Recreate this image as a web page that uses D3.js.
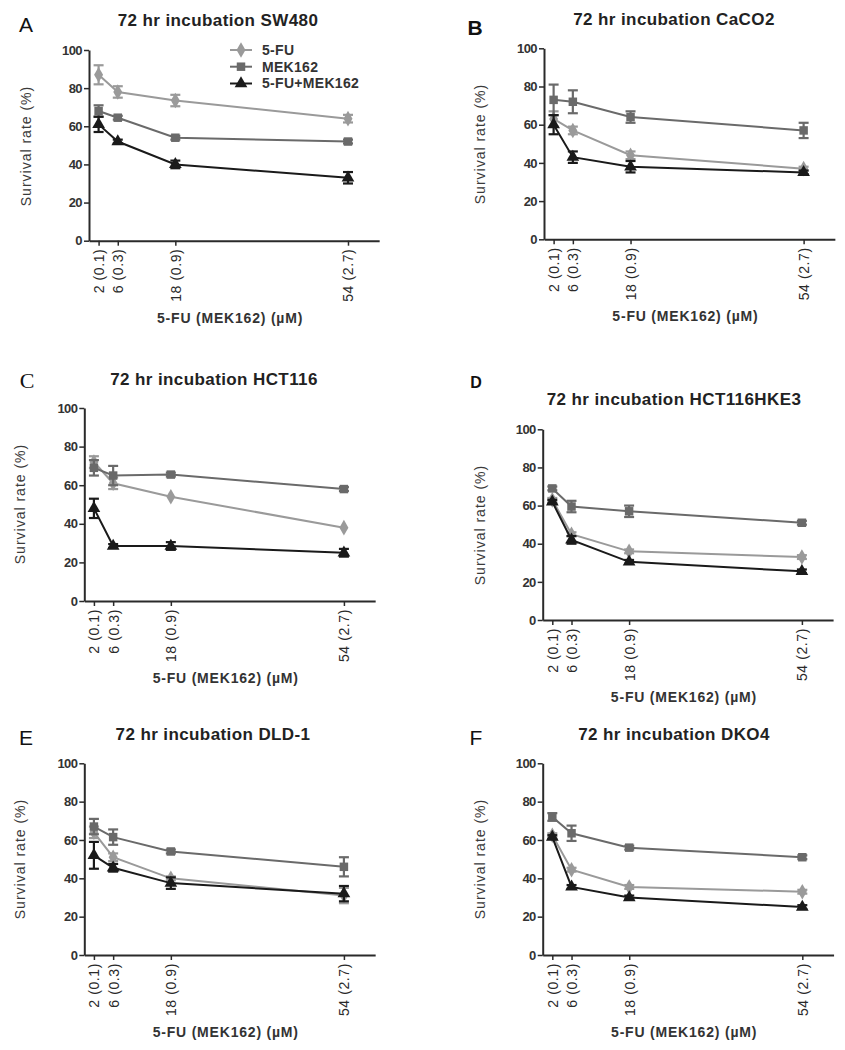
<!DOCTYPE html>
<html>
<head>
<meta charset="utf-8">
<script src="https://cdn.jsdelivr.net/npm/d3@7"></script>
<style>
  body { margin: 0; background: #fff; }
  svg { display: block; font-family: "Liberation Sans", Arial, sans-serif; }
</style>
</head>
<body>
<svg id="chart" width="845" height="1050"></svg>
<script>
// ---------- DATA ----------
const doses = [2, 6, 18, 54];
const doseLabels = ["2 (0.1)", "6 (0.3)", "18 (0.9)", "54 (2.7)"];
const yTicks = [0, 20, 40, 60, 80, 100];
const seriesNames = ["5-FU", "MEK162", "5-FU+MEK162"];
const panelLetters = ["A", "B", "C", "D", "E", "F"];
const panelTitles = [
  "72 hr incubation SW480",
  "72 hr incubation CaCO2",
  "72 hr incubation HCT116",
  "72 hr incubation HCT116HKE3",
  "72 hr incubation DLD-1",
  "72 hr incubation DKO4"
];
const yLabel = "Survival rate (%)";
const xLabel = "5-FU (MEK162) (\u00B5M)";

// SW480
const sw480_5fu = [87, 78, 73.5, 64];
const sw480_5fu_err = [5, 3, 3, 2];
const sw480_mek = [68, 64.5, 54, 52];
const sw480_mek_err = [3, 1, 1, 1];
const sw480_combo = [61, 52, 40, 33];
const sw480_combo_err = [4, 1, 2, 3];
// CaCO2
const caco2_5fu = [63, 57, 44, 37];
const caco2_5fu_err = [4, 2, 2, 1];
const caco2_mek = [73, 72, 64, 57];
const caco2_mek_err = [8, 6, 3, 4];
const caco2_combo = [60, 43, 38, 35];
const caco2_combo_err = [5, 3, 3, 1];
// HCT116
const hct116_5fu = [72, 61, 54, 38];
const hct116_5fu_err = [3, 3, 0.5, 0.5];
const hct116_mek = [69, 65, 65.5, 58];
const hct116_mek_err = [4, 5, 1, 1];
const hct116_combo = [48, 28.5, 28.5, 25];
const hct116_combo_err = [5, 1, 2, 2];
// HCT116HKE3
const hke3_5fu = [63, 45, 36, 33];
const hke3_5fu_err = [1, 1, 1, 1];
const hke3_mek = [69, 59.5, 57, 51];
const hke3_mek_err = [1, 3, 3, 1];
const hke3_combo = [62, 42, 30.5, 25.5];
const hke3_combo_err = [1, 2, 1, 1];
// DLD-1
const dld1_5fu = [64, 51, 40, 31];
const dld1_5fu_err = [3, 2, 1, 4];
const dld1_mek = [67, 61.5, 54, 46];
const dld1_mek_err = [4, 4, 1, 5];
const dld1_combo = [52, 45.5, 37.5, 32];
const dld1_combo_err = [7, 2, 3, 4];
// DKO4
const dko4_5fu = [62.5, 44.5, 35.5, 33];
const dko4_5fu_err = [1, 1, 1, 1];
const dko4_mek = [72, 63.5, 56, 51];
const dko4_mek_err = [2, 4, 1, 1];
const dko4_combo = [61.5, 35.5, 30, 25];
const dko4_combo_err = [1, 1, 1, 1];

const panelData = [
  [[sw480_5fu, sw480_5fu_err], [sw480_mek, sw480_mek_err], [sw480_combo, sw480_combo_err]],
  [[caco2_5fu, caco2_5fu_err], [caco2_mek, caco2_mek_err], [caco2_combo, caco2_combo_err]],
  [[hct116_5fu, hct116_5fu_err], [hct116_mek, hct116_mek_err], [hct116_combo, hct116_combo_err]],
  [[hke3_5fu, hke3_5fu_err], [hke3_mek, hke3_mek_err], [hke3_combo, hke3_combo_err]],
  [[dld1_5fu, dld1_5fu_err], [dld1_mek, dld1_mek_err], [dld1_combo, dld1_combo_err]],
  [[dko4_5fu, dko4_5fu_err], [dko4_mek, dko4_mek_err], [dko4_combo, dko4_combo_err]]
];

// ---------- STYLE / LAYOUT ----------
const seriesColors = ["#9a9a9a", "#6a6a6a", "#1a1a1a"];
const seriesSymbols = [d3.symbolDiamond, d3.symbolSquare, d3.symbolTriangle];
const symbolSizes = [70, 72, 70];

const layout = [
  {left: 89,    x2: 99.3,  x54: 348.7, top: 50,    bottom: 240.7, titleX: 218, titleY: 26,  letX: 26,  letY: 32,  letFont: "Liberation Sans", letSize: 21, letWeight: "normal", ylX: 26,  ylY: 146},
  {left: 544,   x2: 552.7, x54: 802.7, top: 48.3,  bottom: 239.3, titleX: 674, titleY: 25,  letX: 475, letY: 35,  letFont: "Liberation Sans", letSize: 21, letWeight: "bold",   ylX: 480, ylY: 144},
  {left: 84.3,  x2: 94,    x54: 344,   top: 408,   bottom: 601,   titleX: 214, titleY: 385, letX: 27,  letY: 388, letFont: "Liberation Serif", letSize: 22, letWeight: "normal", ylX: 20,  ylY: 504},
  {left: 542.7, x2: 552.7, x54: 802.3, top: 429.3, bottom: 620,   titleX: 674, titleY: 405, letX: 476, letY: 388, letFont: "Liberation Sans", letSize: 16, letWeight: "bold",   ylX: 480, ylY: 525},
  {left: 84.3,  x2: 94,    x54: 344,   top: 763.3, bottom: 955,   titleX: 213, titleY: 740, letX: 26,  letY: 745, letFont: "Liberation Sans", letSize: 21, letWeight: "normal", ylX: 20,  ylY: 859},
  {left: 542.7, x2: 552.7, x54: 802.7, top: 763.3, bottom: 955,   titleX: 674, titleY: 740, letX: 476, letY: 745, letFont: "Liberation Sans", letSize: 21, letWeight: "normal", ylX: 480, ylY: 859}
];

const svg = d3.select("#chart");
const axisColor = "#2a2a2a";

panelData.forEach((series, p) => {
  const L = layout[p];
  const slope = (L.x54 - L.x2) / (doses[3] - doses[0]);
  const xMax = 60.5;
  const x = d3.scaleLinear().domain([0, xMax]).range([L.left, L.left + xMax * slope]);
  const y = d3.scaleLinear().domain([0, 100]).range([L.bottom, L.top]);
  const g = svg.append("g");

  // letter
  g.append("text").attr("x", L.letX).attr("y", L.letY)
    .attr("text-anchor", "middle")
    .style("font-family", L.letFont).style("font-size", L.letSize + "px")
    .style("font-weight", L.letWeight).style("fill", "#111")
    .text(panelLetters[p]);

  // title
  g.append("text").attr("x", L.titleX).attr("y", L.titleY)
    .attr("text-anchor", "middle")
    .style("font-size", "17px").style("font-weight", "bold")
    .style("letter-spacing", "0.4px").style("fill", "#222")
    .text(panelTitles[p]);

  // y axis
  const ya = g.append("g").attr("transform", `translate(${L.left},0)`)
    .call(d3.axisLeft(y).tickValues(yTicks).tickSize(5).tickSizeOuter(0).tickPadding(2));
  ya.select(".domain").attr("stroke", axisColor).attr("stroke-width", 2);
  ya.selectAll(".tick line").attr("stroke", axisColor).attr("stroke-width", 1.5);
  ya.selectAll(".tick text").style("font-size", "13px").style("font-weight", "bold")
    .style("font-family", "Liberation Sans").style("fill", "#333").style("letter-spacing", "-0.6px");

  // x axis
  const xa = g.append("g").attr("transform", `translate(0,${L.bottom})`)
    .call(d3.axisBottom(x).tickValues(doses).tickFormat((d, i) => doseLabels[i]).tickSize(5).tickSizeOuter(0));
  xa.select(".domain").attr("stroke", axisColor).attr("stroke-width", 2);
  xa.selectAll(".tick line").attr("stroke", axisColor).attr("stroke-width", 1.5);
  xa.selectAll(".tick text")
    .attr("transform", "rotate(-90)")
    .attr("x", -8).attr("y", 0).attr("dy", "0.35em")
    .style("text-anchor", "end")
    .style("font-size", "14px").style("font-family", "Liberation Sans")
    .style("letter-spacing", "0.6px").style("fill", "#2a2a2a");

  // y label
  g.append("text")
    .attr("transform", `translate(${L.ylX},${L.ylY}) rotate(-90)`)
    .attr("text-anchor", "middle").attr("dy", "0.35em")
    .style("font-size", "14px").style("letter-spacing", "1px").style("fill", "#3a3a3a")
    .text(yLabel);

  // x label
  g.append("text")
    .attr("x", (L.left + x(xMax)) / 2 - 4)
    .attr("y", L.bottom + 82)
    .attr("text-anchor", "middle")
    .style("font-size", "14px").style("font-weight", "bold").style("letter-spacing", "0.8px").style("fill", "#333")
    .text(xLabel);

  // series
  series.forEach((s, k) => {
    const vals = s[0], errs = s[1];
    const pts = doses.map((d, i) => ({x: d, y: vals[i], e: errs[i]}));
    const col = seriesColors[k];
    const sg = g.append("g");
    sg.append("path").datum(pts)
      .attr("fill", "none").attr("stroke", col).attr("stroke-width", 2)
      .attr("d", d3.line().x(d => x(d.x)).y(d => y(d.y)));
    // error bars
    const eb = sg.selectAll(".eb").data(pts.filter(d => d.e > 0.6)).enter().append("g");
    eb.append("line").attr("x1", d => x(d.x)).attr("x2", d => x(d.x))
      .attr("y1", d => y(d.y - d.e)).attr("y2", d => y(d.y + d.e))
      .attr("stroke", col).attr("stroke-width", 2.2);
    [-1, 1].forEach(sg2 => {
      eb.append("line").attr("x1", d => x(d.x) - 5).attr("x2", d => x(d.x) + 5)
        .attr("y1", d => y(d.y + sg2 * d.e)).attr("y2", d => y(d.y + sg2 * d.e))
        .attr("stroke", col).attr("stroke-width", 2.2);
    });
    sg.selectAll(".mk").data(pts).enter().append("path")
      .attr("transform", d => `translate(${x(d.x)},${y(d.y)})`)
      .attr("d", d3.symbol().type(seriesSymbols[k]).size(symbolSizes[k]))
      .attr("fill", col);
  });

  // legend (panel A only)
  if (p === 0) {
    const legY = [50, 66.7, 83.5];
    seriesNames.forEach((name, k) => {
      const lg = g.append("g").attr("transform", `translate(230,${legY[k]})`);
      lg.append("line").attr("x1", 0).attr("x2", 22).attr("y1", 0).attr("y2", 0)
        .attr("stroke", seriesColors[k]).attr("stroke-width", 2);
      lg.append("path").attr("transform", "translate(11,0)")
        .attr("d", d3.symbol().type(seriesSymbols[k]).size(symbolSizes[k])).attr("fill", seriesColors[k]);
      lg.append("text").attr("x", 32).attr("y", 0).attr("dy", "0.35em")
        .style("font-size", "14px").style("font-weight", "bold").style("letter-spacing", "0.3px")
        .style("fill", "#333").text(name);
    });
  }
});
</script>
</body>
</html>
